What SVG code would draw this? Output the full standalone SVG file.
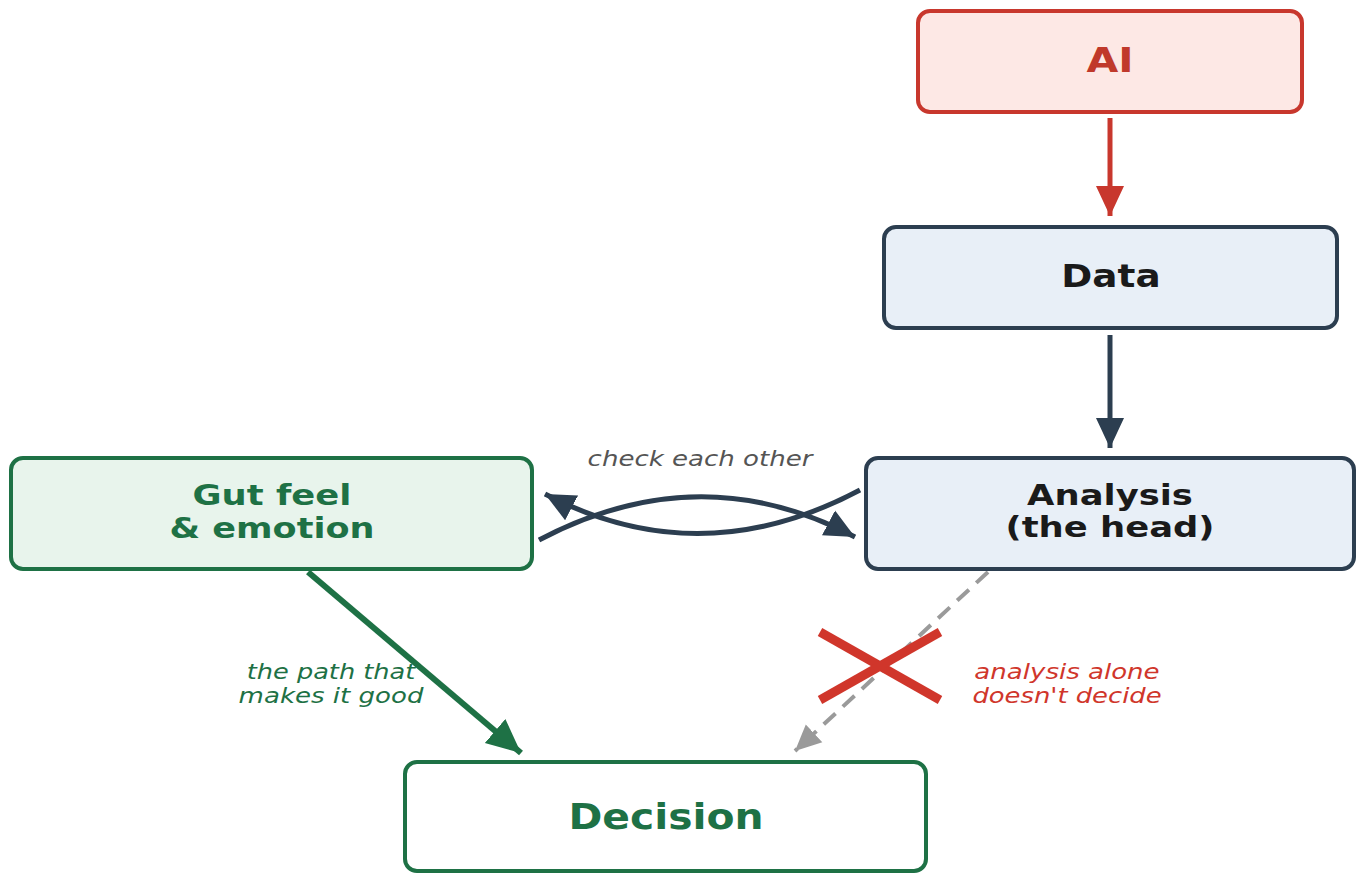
<svg xmlns="http://www.w3.org/2000/svg" width="1359" height="873" viewBox="0 0 1359 873">
<style>
.box{stroke-width:4}
.t{font-family:"DejaVu Sans",sans-serif;font-weight:bold;text-anchor:middle}
.lbl{font-family:"DejaVu Sans",sans-serif;font-style:italic;text-anchor:middle;font-size:21px}
.con{fill:none}
</style>
<defs>
<marker id="hr" viewBox="0 0 30 30" markerUnits="userSpaceOnUse" markerWidth="30" markerHeight="30" refX="30" refY="15" orient="auto"><path d="M0,1 L30,15 L0,29 z" fill="#c8372d"/></marker>
<marker id="hd" viewBox="0 0 30 30" markerUnits="userSpaceOnUse" markerWidth="30" markerHeight="30" refX="30" refY="15" orient="auto"><path d="M0,1 L30,15 L0,29 z" fill="#2c3e50"/></marker>
<marker id="hg" viewBox="0 0 30 30" markerUnits="userSpaceOnUse" markerWidth="34" markerHeight="34" refX="30" refY="15" orient="auto"><path d="M0,1 L30,15 L0,29 z" fill="#1e7145"/></marker>
<marker id="hy" viewBox="0 0 30 30" markerUnits="userSpaceOnUse" markerWidth="26" markerHeight="26" refX="30" refY="15" orient="auto"><path d="M0,1 L30,15 L0,29 z" fill="#9a9a9a"/></marker>
</defs>
<rect width="1359" height="873" fill="#ffffff"/>
<g id="connectors">
<line class="con" x1="1110" y1="118" x2="1110" y2="216" stroke="#c8372d" stroke-width="5" marker-end="url(#hr)"/>
<line class="con" x1="1110" y1="335" x2="1110" y2="448" stroke="#2c3e50" stroke-width="5" marker-end="url(#hd)"/>
<path class="con" d="M539,540 Q700,455 855,537" stroke="#2c3e50" stroke-width="5" marker-end="url(#hd)"/>
<path class="con" d="M860,490 Q700,575 545,494" stroke="#2c3e50" stroke-width="5" marker-end="url(#hd)"/>
<line class="con" x1="308" y1="572" x2="521" y2="753" stroke="#1e7145" stroke-width="6" marker-end="url(#hg)"/>
<line class="con" x1="988" y1="572" x2="795" y2="751" stroke="#9a9a9a" stroke-width="4" stroke-dasharray="16 10" marker-end="url(#hy)"/>
<g stroke="#d0362b" stroke-width="9">
<line x1="820" y1="632" x2="940" y2="700"/>
<line x1="820" y1="700" x2="940" y2="632"/>
</g>
<text class="lbl" transform="translate(700,466) scale(1.24,1)" fill="#555555">check each other</text>
<text class="lbl" transform="translate(331,679) scale(1.22,1)" fill="#1e7145">the path that</text>
<text class="lbl" transform="translate(331,703) scale(1.24,1)" fill="#1e7145">makes it good</text>
<text class="lbl" transform="translate(1067,679) scale(1.24,1)" fill="#d0362b">analysis alone</text>
<text class="lbl" transform="translate(1067,703) scale(1.23,1)" fill="#d0362b">doesn't decide</text>
</g>
<g id="ai">
<rect class="box" x="918" y="11" width="384" height="101" rx="12" fill="#fde8e5" stroke="#c8372d"/>
<text class="t" transform="translate(1110,72) scale(1.21,1)" font-size="34" fill="#c0392b">AI</text>
</g>
<g id="data">
<rect class="box" x="884" y="227" width="453" height="101" rx="12" fill="#e8eff7" stroke="#2c3e50"/>
<text class="t" transform="translate(1111,287) scale(1.15,1)" font-size="32.5" fill="#1a1a1a">Data</text>
</g>
<g id="analysis">
<rect class="box" x="866" y="458" width="488" height="111" rx="12" fill="#e8eff7" stroke="#2c3e50"/>
<text class="t" transform="translate(1110,505) scale(1.22,1)" font-size="29" fill="#1a1a1a">Analysis</text>
<text class="t" transform="translate(1110,537) scale(1.22,1)" font-size="29" fill="#1a1a1a">(the head)</text>
</g>
<g id="gut">
<rect class="box" x="11" y="458" width="521" height="111" rx="12" fill="#e8f4ec" stroke="#1e7145"/>
<text class="t" transform="translate(272,505) scale(1.22,1)" font-size="29" fill="#1e7145">Gut feel</text>
<text class="t" transform="translate(272,538) scale(1.21,1)" font-size="29" fill="#1e7145">&amp; emotion</text>
</g>
<g id="decision">
<rect class="box" x="405" y="762" width="521" height="109" rx="12" fill="#ffffff" stroke="#1e7145"/>
<text class="t" transform="translate(666,829) scale(1.15,1)" font-size="35.5" fill="#1e7145">Decision</text>
</g>
</svg>
